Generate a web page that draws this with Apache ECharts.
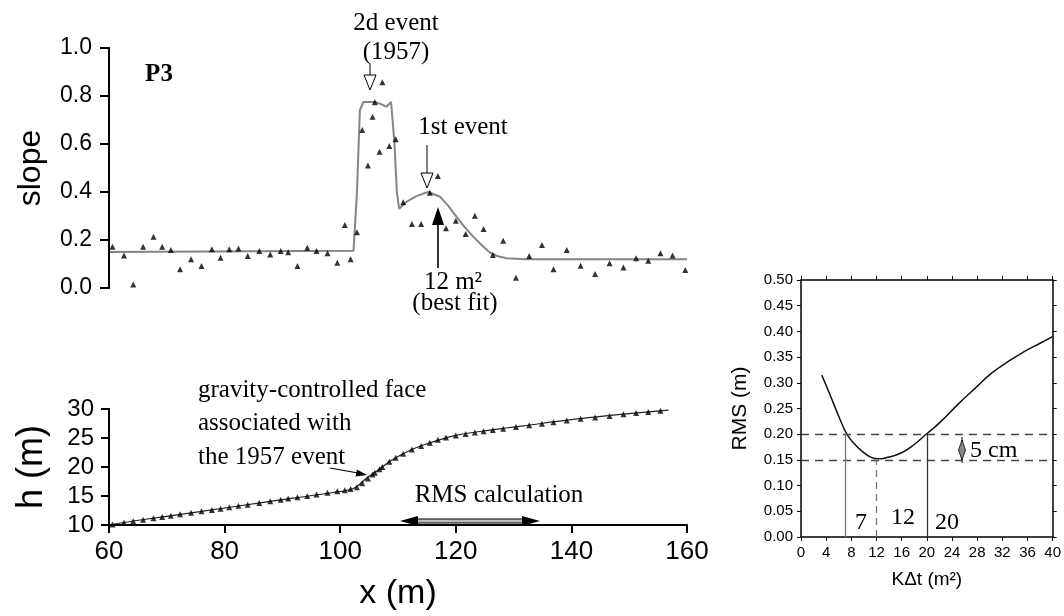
<!DOCTYPE html>
<html>
<head>
<meta charset="utf-8">
<script src="https://cdn.jsdelivr.net/npm/echarts@6/dist/echarts.min.js"></script>
<style>
html,body{margin:0;background:#fff}
#wrap{position:relative;width:1064px;height:616px}
#main1{position:absolute;left:0;top:0;width:720px;height:616px}
#main2{position:absolute;left:700px;top:0;width:364px;height:616px}
</style>
</head>
<body>
<div id="wrap"><div id="main1"></div><div id="main2"></div></div>
<script>
// slope profile P3 : measured points (x in m)
var slopeX = [60.6, 62.6, 64.2, 65.9, 67.7, 69.2, 70.7, 72.3, 74.2, 76.0, 77.8, 79.3, 80.8, 82.4, 84.0, 86.0, 87.9, 89.7, 91.0, 92.6, 94.3, 95.9, 97.8, 99.5, 100.8, 101.8, 102.9, 103.8, 104.8, 105.6, 106.0, 106.8, 107.3, 108.5, 109.6, 110.9, 112.4, 114.0, 115.5, 116.9, 118.3, 120.0, 121.7, 123.3, 124.8, 126.4, 128.2, 130.4, 132.7, 134.9, 136.9, 139.2, 141.6, 144.1, 146.6, 149.0, 151.2, 153.3, 155.4, 157.5, 159.7];
var slopeObs = [0.172, 0.135, 0.015, 0.172, 0.214, 0.172, 0.158, 0.078, 0.12, 0.092, 0.161, 0.126, 0.161, 0.165, 0.133, 0.154, 0.14, 0.154, 0.149, 0.092, 0.168, 0.154, 0.145, 0.105, 0.262, 0.12, 0.232, 0.658, 0.51, 0.714, 0.774, 0.568, 0.857, 0.592, 0.62, 0.357, 0.267, 0.267, 0.397, 0.467, 0.249, 0.28, 0.225, 0.301, 0.246, 0.138, 0.197, 0.043, 0.133, 0.179, 0.078, 0.158, 0.093, 0.058, 0.103, 0.085, 0.124, 0.114, 0.145, 0.135, 0.075];

// modelled slope (best fit, 12 m2)
var fitX = [60, 102.3, 102.9, 103.4, 104, 106, 107.2, 108, 108.8, 109.4, 109.8, 110.2, 111.5, 113.2, 115.2, 117.3, 118.7, 120.1, 121.5, 123, 124.5, 125.9, 127.3, 128.8, 132, 160];
var fitSlope = [0.15, 0.155, 0.4, 0.74, 0.775, 0.775, 0.765, 0.755, 0.775, 0.6, 0.4, 0.33, 0.36, 0.383, 0.40, 0.38, 0.342, 0.297, 0.255, 0.214, 0.178, 0.148, 0.132, 0.124, 0.12, 0.12];

// elevation profile
var hX = [60.6, 62.6, 64.2, 65.9, 67.7, 69.2, 70.7, 72.3, 74.2, 76.0, 77.8, 79.3, 80.8, 82.4, 84.0, 86.0, 87.9, 89.7, 91.0, 92.6, 94.3, 95.9, 97.8, 99.5, 100.8, 101.8, 102.9, 103.8, 104.8, 105.6, 106.0, 106.8, 107.3, 108.5, 109.6, 110.9, 112.4, 114.0, 115.5, 116.9, 118.3, 120.0, 121.7, 123.3, 124.8, 126.4, 128.2, 130.4, 132.7, 134.9, 136.9, 139.2, 141.6, 144.1, 146.6, 149.0, 151.2, 153.3, 155.4];
var hObs = [10.1, 10.4, 10.65, 10.9, 11.15, 11.4, 11.6, 11.85, 12.1, 12.35, 12.6, 12.8, 13.05, 13.3, 13.5, 13.8, 14.1, 14.35, 14.55, 14.8, 15.0, 15.25, 15.55, 15.8, 16.0, 16.2, 16.5, 17.2, 18.0, 18.7, 19.0, 19.6, 20.0, 20.9, 21.6, 22.3, 23.0, 23.6, 24.2, 24.7, 25.1, 25.45, 25.7, 25.95, 26.15, 26.4, 26.6, 26.9, 27.2, 27.45, 27.7, 28.0, 28.3, 28.55, 28.8, 29.1, 29.3, 29.5, 29.7];
var hLineX = [60, 65.4, 75.7, 87.3, 98.8, 102.3, 104.6, 106.9, 108.6, 111.5, 114.4, 120.2, 126.2, 131.7, 140.3, 149, 156.8];
var hLine = [10, 10.86, 12.3, 14.0, 15.6, 16.3, 18.1, 19.7, 21.0, 22.6, 23.8, 25.5, 26.4, 27.1, 28.2, 29.1, 29.8];

// tick values of the two left y axes
var slopeTicks = [0, 0.2, 0.4, 0.6, 0.8, 1.0];
var hTicks = [10, 15, 20, 25, 30];

// RMS misfit vs K.dt
var kdt = [3.3, 4.5, 6, 7.3, 8.5, 9.6, 11, 12.3, 13.5, 15.8, 18, 19.9, 22, 25.1, 28, 30.2, 33, 35.4, 38, 40];
var rms = [0.315, 0.28, 0.235, 0.2, 0.181, 0.168, 0.156, 0.152, 0.154, 0.163, 0.18, 0.2, 0.222, 0.26, 0.293, 0.318, 0.342, 0.36, 0.377, 0.39];
var rmsLevels = [0.20, 0.15];
var kdtMarks = [7, 12, 20];
var kdtMarkTop = [0.2, 0.15, 0.2];

function pairs(xs, ys) {
  return xs.map(function (x, i) { return [x, ys[i]]; });
}

var sans = 'Liberation Sans';
var serif = 'Liberation Serif';

function axLine(w) {
  return { show: true, onZero: false, lineStyle: { color: '#000', width: w } };
}
function axTick(len, w) {
  return { show: true, length: len, lineStyle: { color: '#000', width: w } };
}
function txt(x, y, s, size, align) {
  return { type: 'text', x: x, y: y, style: { text: s, font: size + 'px ' + serif, fill: '#000', textAlign: align || 'center', textVerticalAlign: 'middle' } };
}

// ---- left figure : slope and elevation profiles ----
var myChart1 = echarts.init(document.getElementById('main1'));

var annot1 = [
  { type: 'text', x: 159, y: 75, style: { text: 'P3', font: 'bold 25px ' + serif, fill: '#000', textAlign: 'center', textVerticalAlign: 'middle' } },
  txt(396, 23, '2d event', 25),
  txt(396, 52, '(1957)', 25),
  { type: 'line', shape: { x1: 370, y1: 64, x2: 370, y2: 76 }, style: { stroke: '#000', lineWidth: 1 } },
  { type: 'polygon', shape: { points: [[364, 75], [376, 75], [370, 90]] }, style: { fill: '#fff', stroke: '#000', lineWidth: 1 } },
  txt(463, 127, '1st event', 25),
  { type: 'line', shape: { x1: 427, y1: 145, x2: 427, y2: 174 }, style: { stroke: '#000', lineWidth: 1 } },
  { type: 'polygon', shape: { points: [[421, 173], [433, 173], [427, 188]] }, style: { fill: '#fff', stroke: '#000', lineWidth: 1 } },
  { type: 'line', shape: { x1: 438, y1: 268, x2: 438, y2: 222 }, style: { stroke: '#333', lineWidth: 2 } },
  { type: 'polygon', shape: { points: [[432, 225], [444, 225], [438, 207]] }, style: { fill: '#000' } },
  txt(453, 282, '12 m²', 25),
  txt(455, 303, '(best fit)', 25),
  txt(198, 390, 'gravity-controlled face', 25, 'left'),
  txt(198, 423, 'associated with', 25, 'left'),
  txt(198, 457, 'the 1957 event', 25, 'left'),
  { type: 'line', shape: { x1: 330, y1: 468, x2: 358, y2: 473 }, style: { stroke: '#000', lineWidth: 1.2 } },
  { type: 'polygon', shape: { points: [[367, 475], [356.9, 469.6], [355.5, 476.4]] }, style: { fill: '#000' } },
  txt(499, 495, 'RMS calculation', 25),
  { type: 'rect', shape: { x: 410, y: 519, width: 120, height: 4 }, style: { fill: '#bbb', stroke: '#000', lineWidth: 1 } },
  { type: 'polygon', shape: { points: [[400, 521], [418, 516], [418, 526]] }, style: { fill: '#000' } },
  { type: 'polygon', shape: { points: [[540, 521], [522, 516], [522, 526]] }, style: { fill: '#000' } }
];

var option1 = {
  animation: false,
  grid: [
    { left: 109, top: 48, width: 578, height: 240 },
    { left: 109, top: 409, width: 578, height: 116 }
  ],
  xAxis: [
    { gridIndex: 0, type: 'value', min: 60, max: 160, show: false },
    {
      gridIndex: 1, type: 'value', min: 60, max: 160, interval: 20,
      axisLine: axLine(2), axisTick: axTick(8, 2),
      axisLabel: { color: '#000', fontFamily: sans, fontSize: 26, margin: 14 },
      splitLine: { show: false },
      name: 'x (m)', nameLocation: 'middle', nameGap: 52,
      nameTextStyle: { color: '#000', fontFamily: sans, fontSize: 34 }
    }
  ],
  yAxis: [
    {
      gridIndex: 0, type: 'value', min: 0, max: 1, interval: 0.2,
      axisLine: axLine(2), axisTick: axTick(9, 2),
      axisLabel: { color: '#000', fontFamily: sans, fontSize: 23, margin: 17, formatter: function (v) { return v.toFixed(1); } },
      splitLine: { show: false },
      name: 'slope', nameLocation: 'middle', nameGap: 62,
      nameTextStyle: { color: '#000', fontFamily: sans, fontSize: 32 }
    },
    {
      gridIndex: 1, type: 'value', min: 10, max: 30, interval: 5,
      axisLine: axLine(2), axisTick: axTick(8, 2),
      axisLabel: { color: '#000', fontFamily: sans, fontSize: 24, margin: 15 },
      splitLine: { show: false },
      name: 'h (m)', nameLocation: 'middle', nameGap: 59,
      nameTextStyle: { color: '#000', fontFamily: sans, fontSize: 36 }
    }
  ],
  series: [
    {
      name: 'fit', type: 'line', xAxisIndex: 0, yAxisIndex: 0,
      data: pairs(fitX, fitSlope), symbol: 'none',
      lineStyle: { color: '#858585', width: 2 }
    },
    {
      name: 'slope', type: 'scatter', xAxisIndex: 0, yAxisIndex: 0,
      data: pairs(slopeX, slopeObs), symbol: 'triangle', symbolSize: 6,
      itemStyle: { color: '#000' }, z: 5
    },
    {
      name: 'h line', type: 'line', xAxisIndex: 1, yAxisIndex: 1,
      data: pairs(hLineX, hLine), symbol: 'none', smooth: 0.3,
      lineStyle: { color: '#222', width: 1.2 }
    },
    {
      name: 'h', type: 'scatter', xAxisIndex: 1, yAxisIndex: 1,
      data: pairs(hX, hObs), symbol: 'triangle', symbolSize: 6,
      itemStyle: { color: '#000' }, z: 5
    }
  ],
  graphic: annot1
};
myChart1.setOption(option1);

// left y axes: line and ticks placed through the axes' own scales, drawn on top
function yAxisMarks(gridIndex, ticks, tickLen) {
  var out = [];
  var a = myChart1.convertToPixel({ gridIndex: gridIndex }, [60, ticks[0]]);
  var b = myChart1.convertToPixel({ gridIndex: gridIndex }, [60, ticks[ticks.length - 1]]);
  out.push({ type: 'line', z: 100, shape: { x1: a[0], y1: a[1] + 1, x2: b[0], y2: b[1] - 1 }, style: { stroke: '#000', lineWidth: 2 } });
  ticks.forEach(function (v) {
    var p = myChart1.convertToPixel({ gridIndex: gridIndex }, [60, v]);
    out.push({ type: 'line', z: 100, shape: { x1: p[0] - tickLen, y1: p[1], x2: p[0], y2: p[1] }, style: { stroke: '#000', lineWidth: 2 } });
  });
  return out;
}
myChart1.setOption({ graphic: annot1.concat(yAxisMarks(0, slopeTicks, 9), yAxisMarks(1, hTicks, 8)) });

// ---- right figure : RMS misfit ----
var myChart2 = echarts.init(document.getElementById('main2'));

var refLines = [];
rmsLevels.forEach(function (v) {
  refLines.push([{ coord: [0, v], lineStyle: { type: [8, 6], color: '#444', width: 1.3 } }, { coord: [40, v] }]);
});
kdtMarks.forEach(function (k, i) {
  refLines.push([{ coord: [k, 0], lineStyle: { type: i === 1 ? [7, 5] : 'solid', color: i === 2 ? '#333' : '#777', width: 1.3 } }, { coord: [k, kdtMarkTop[i]] }]);
});

var option2 = {
  animation: false,
  grid: { left: 101, top: 280, width: 259, height: 257 },
  xAxis: [
    {
      type: 'value', min: 0, max: 40, interval: 4,
      axisLine: axLine(1.5), axisTick: axTick(4, 1),
      axisLabel: { color: '#000', fontFamily: sans, fontSize: 15, margin: 8 },
      splitLine: { show: false },
      name: 'KΔt (m²)', nameLocation: 'middle', nameGap: 33,
      nameTextStyle: { color: '#000', fontFamily: sans, fontSize: 19 }
    },
    {
      type: 'value', min: 0, max: 40, interval: 4, position: 'top',
      axisLine: axLine(1.5), axisTick: axTick(4, 1),
      axisLabel: { show: false }, splitLine: { show: false }
    }
  ],
  yAxis: [
    {
      type: 'value', min: 0, max: 0.5, interval: 0.05,
      axisLine: axLine(1.5), axisTick: axTick(4, 1),
      axisLabel: { color: '#000', fontFamily: sans, fontSize: 15, margin: 8, formatter: function (v) { return v.toFixed(2); } },
      splitLine: { show: false },
      name: 'RMS (m)', nameLocation: 'middle', nameGap: 50,
      nameTextStyle: { color: '#000', fontFamily: sans, fontSize: 21 }
    },
    {
      type: 'value', min: 0, max: 0.5, interval: 0.05, position: 'right',
      axisLine: axLine(1.5), axisTick: axTick(4, 1),
      axisLabel: { show: false }, splitLine: { show: false }
    }
  ],
  series: [
    {
      name: 'rms', type: 'line', data: pairs(kdt, rms), symbol: 'none', smooth: true,
      lineStyle: { color: '#111', width: 1.5 },
      markLine: { silent: true, symbol: 'none', label: { show: false }, data: refLines }
    }
  ],
  graphic: [
    txt(161, 523, '7', 24),
    txt(203, 518, '12', 24),
    txt(247, 523, '20', 24),
    { type: 'line', shape: { x1: 262, y1: 437, x2: 262, y2: 463 }, style: { stroke: '#000', lineWidth: 1 } },
    { type: 'polygon', shape: { points: [[262, 440], [265.5, 450], [262, 460], [258.5, 450]] }, style: { fill: '#888', stroke: '#000', lineWidth: 0.8 } },
    txt(270, 451, '5 cm', 24, 'left')
  ]
};
myChart2.setOption(option2);
</script>
</body>
</html>
